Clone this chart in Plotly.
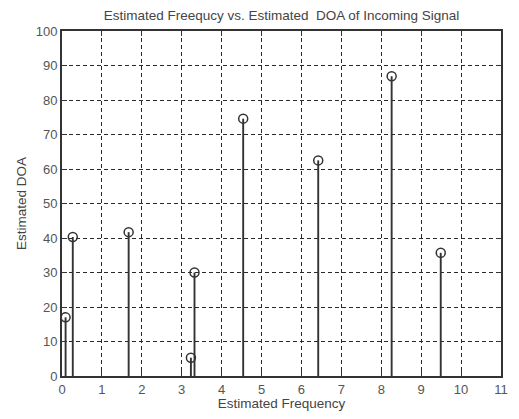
import plotly.graph_objects as go

freq = [0.09, 0.27, 1.67, 3.23, 3.32, 4.54, 6.42, 8.26, 9.49]
doa = [17.0, 40.3, 41.7, 5.3, 30.0, 74.6, 62.5, 86.9, 35.7]
xticks = list(range(0, 12))
yticks = list(range(0, 101, 10))

sx, sy = [], []
for f, d in zip(freq, doa):
    sx += [f, f, None]
    sy += [0, d, None]

FONT = "Liberation Sans, Arial"

fig = go.Figure()
fig.add_trace(go.Scatter(x=sx, y=sy, mode="lines",
                         line=dict(color="#333333", width=1.9),
                         hoverinfo="skip", showlegend=False))
fig.add_trace(go.Scatter(x=freq, y=doa, mode="markers",
                         marker=dict(symbol="circle-open", size=9,
                                     color="#333333", line=dict(width=1.5)),
                         showlegend=False))

axis_common = dict(showgrid=True, gridcolor="#2a2a2a", griddash="4px,3px", gridwidth=1.4,
                   showline=True, linecolor="#333333", linewidth=1.8, mirror="ticks",
                   ticks="inside", ticklen=5, tickcolor="#333333", tickwidth=1.4, zeroline=False,
                   tickfont=dict(family=FONT, size=13, color="#555555"))

fig.update_layout(
    width=519, height=419,
    margin=dict(l=62, r=11, t=31, b=38),
    paper_bgcolor="white", plot_bgcolor="white",
    title=dict(text="Estimated Freequcy vs. Estimated&nbsp; DOA of Incoming Signal",
               x=0.5, xref="paper", y=1 - 15/419, yanchor="middle",
               font=dict(family=FONT, size=13.5, color="#444444")),
    xaxis=dict(range=[0, 11], tickvals=xticks, title=dict(text="Estimated Frequency", standoff=2,
               font=dict(family=FONT, size=13.5, color="#444444")),
               **axis_common),
    yaxis=dict(range=[0, 100], tickvals=yticks, title=dict(text="Estimated DOA", standoff=6,
               font=dict(family=FONT, size=13.5, color="#444444")),
               **axis_common),
)

fig.write_html("out.html")
